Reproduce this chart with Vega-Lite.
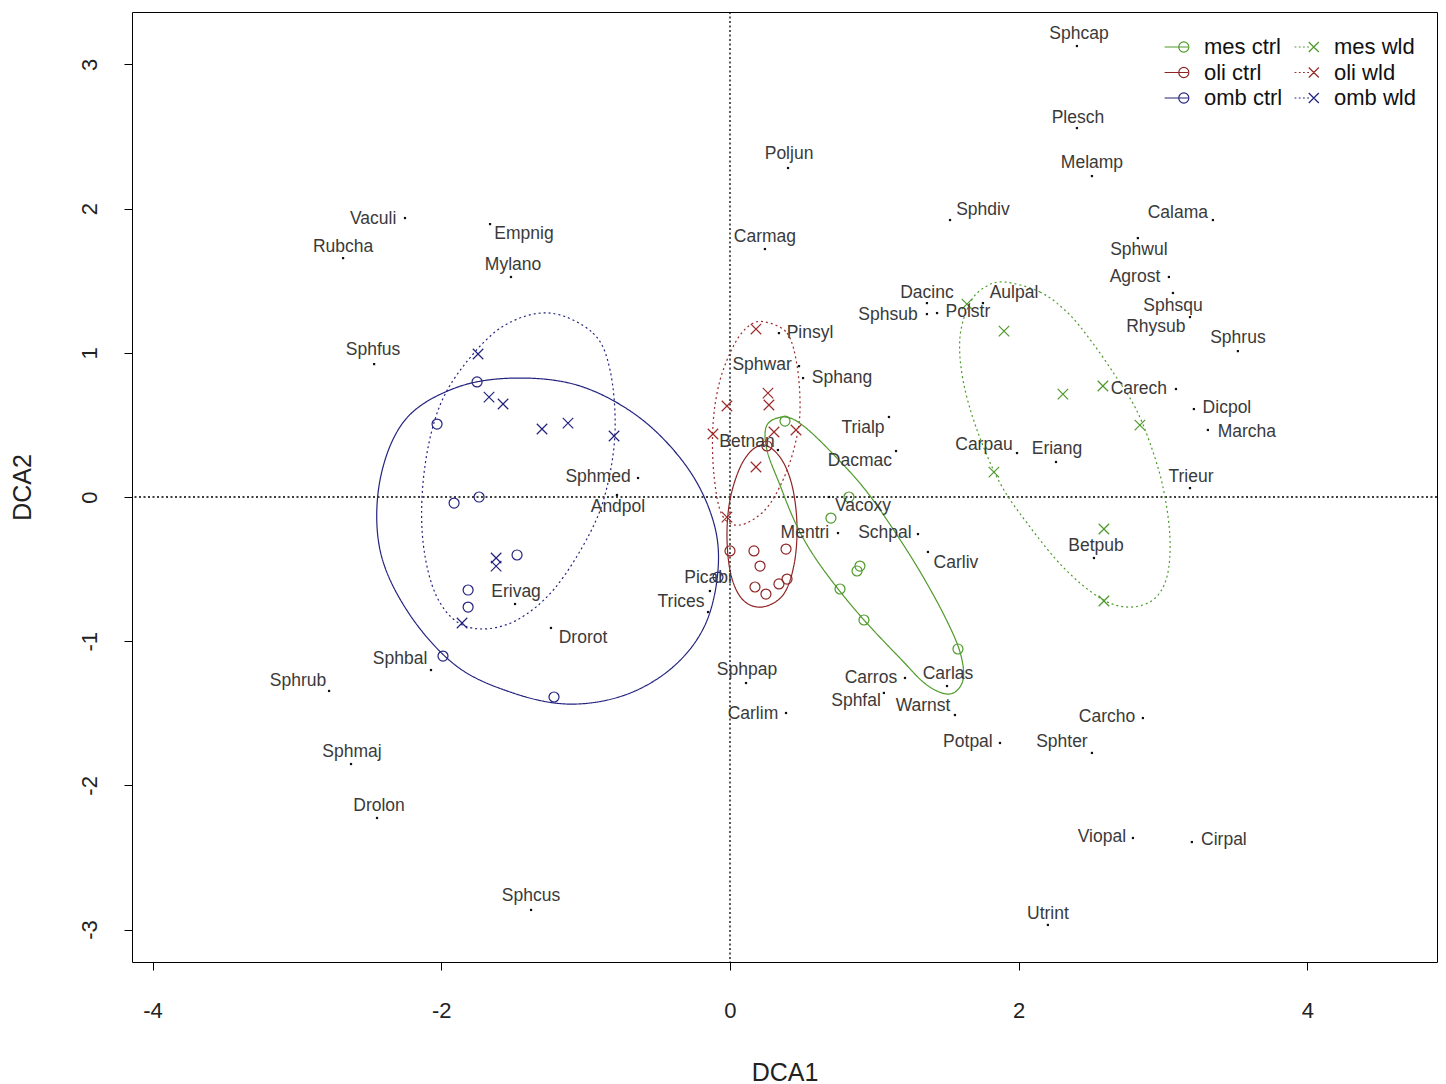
{
  "$schema": "https://vega.github.io/schema/vega-lite/v6.json",
  "width": 1305,
  "height": 950,
  "autosize": {"type": "none"},
  "padding": {"left": 132, "top": 12, "right": 9, "bottom": 122},
  "background": "white",
  "config": {
    "view": {"stroke": "#000", "strokeWidth": 1},
    "font": "Liberation Sans",
    "axis": {
      "domain": false, "grid": false, "tickSize": 8, "tickColor": "#000", "tickWidth": 1,
      "labelFont": "Liberation Sans", "labelFontSize": 22, "labelColor": "#222",
      "titleFont": "Liberation Sans", "titleFontSize": 25, "titleFontWeight": "normal", "titleColor": "#222"
    },
    "legend": {
      "symbolSize": 576, "symbolStrokeWidth": 1.2, "symbolOpacity": 1,
      "labelFont": "Liberation Sans", "labelFontSize": 22, "labelColor": "#111", "labelLimit": 0,
      "labelOffset": 12, "columnPadding": 9, "rowPadding": 1.5, "padding": 0
    }
  },
  "resolve": {"legend": {"color": "independent", "shape": "independent", "strokeDash": "independent"}},
  "datasets": {
    "groups": [
      {"grp": "mes ctrl"}, {"grp": "mes wld"}, {"grp": "oli ctrl"},
      {"grp": "oli wld"}, {"grp": "omb ctrl"}, {"grp": "omb wld"}
    ],
    "sites": [
      {"grp": "omb ctrl", "x": -1.752, "y": 0.798},
      {"grp": "omb ctrl", "x": -2.029, "y": 0.506},
      {"grp": "omb ctrl", "x": -1.911, "y": -0.042},
      {"grp": "omb ctrl", "x": -1.738, "y": 0.0},
      {"grp": "omb ctrl", "x": -1.475, "y": -0.402},
      {"grp": "omb ctrl", "x": -1.814, "y": -0.645},
      {"grp": "omb ctrl", "x": -1.814, "y": -0.763},
      {"grp": "omb ctrl", "x": -1.988, "y": -1.103},
      {"grp": "omb ctrl", "x": -1.219, "y": -1.387},
      {"grp": "omb ctrl", "x": -0.083, "y": -0.555},
      {"grp": "omb wld", "x": -1.745, "y": 0.992},
      {"grp": "omb wld", "x": -1.669, "y": 0.693},
      {"grp": "omb wld", "x": -1.572, "y": 0.645},
      {"grp": "omb wld", "x": -1.302, "y": 0.472},
      {"grp": "omb wld", "x": -1.122, "y": 0.513},
      {"grp": "omb wld", "x": -0.803, "y": 0.423},
      {"grp": "omb wld", "x": -1.62, "y": -0.423},
      {"grp": "omb wld", "x": -1.62, "y": -0.479},
      {"grp": "omb wld", "x": -1.856, "y": -0.874},
      {"grp": "oli ctrl", "x": 0.0, "y": -0.374},
      {"grp": "oli ctrl", "x": 0.166, "y": -0.374},
      {"grp": "oli ctrl", "x": 0.208, "y": -0.479},
      {"grp": "oli ctrl", "x": 0.388, "y": -0.361},
      {"grp": "oli ctrl", "x": 0.173, "y": -0.624},
      {"grp": "oli ctrl", "x": 0.249, "y": -0.673},
      {"grp": "oli ctrl", "x": 0.339, "y": -0.603},
      {"grp": "oli ctrl", "x": 0.395, "y": -0.569},
      {"grp": "oli ctrl", "x": 0.256, "y": 0.354},
      {"grp": "oli wld", "x": 0.18, "y": 1.165},
      {"grp": "oli wld", "x": -0.021, "y": 0.631},
      {"grp": "oli wld", "x": 0.263, "y": 0.721},
      {"grp": "oli wld", "x": 0.27, "y": 0.638},
      {"grp": "oli wld", "x": -0.118, "y": 0.437},
      {"grp": "oli wld", "x": 0.305, "y": 0.451},
      {"grp": "oli wld", "x": 0.457, "y": 0.465},
      {"grp": "oli wld", "x": 0.18, "y": 0.208},
      {"grp": "oli wld", "x": -0.021, "y": -0.139},
      {"grp": "mes ctrl", "x": 0.381, "y": 0.527},
      {"grp": "mes ctrl", "x": 0.824, "y": 0.0},
      {"grp": "mes ctrl", "x": 0.699, "y": -0.146},
      {"grp": "mes ctrl", "x": 0.9, "y": -0.479},
      {"grp": "mes ctrl", "x": 0.88, "y": -0.513},
      {"grp": "mes ctrl", "x": 0.762, "y": -0.638},
      {"grp": "mes ctrl", "x": 0.928, "y": -0.853},
      {"grp": "mes ctrl", "x": 1.579, "y": -1.054},
      {"grp": "mes wld", "x": 1.641, "y": 1.338},
      {"grp": "mes wld", "x": 1.898, "y": 1.151},
      {"grp": "mes wld", "x": 2.306, "y": 0.714},
      {"grp": "mes wld", "x": 2.583, "y": 0.77},
      {"grp": "mes wld", "x": 2.839, "y": 0.499},
      {"grp": "mes wld", "x": 1.828, "y": 0.173},
      {"grp": "mes wld", "x": 2.59, "y": -0.222},
      {"grp": "mes wld", "x": 2.59, "y": -0.721}
    ],
    "ellipses": [
      {"grp": "omb ctrl", "i": 1, "x": -1.489, "y": 0.825},
      {"grp": "omb ctrl", "i": 2, "x": -1.039, "y": 0.77},
      {"grp": "omb ctrl", "i": 3, "x": -0.623, "y": 0.548},
      {"grp": "omb ctrl", "i": 4, "x": -0.298, "y": 0.208},
      {"grp": "omb ctrl", "i": 5, "x": -0.118, "y": -0.16},
      {"grp": "omb ctrl", "i": 6, "x": -0.083, "y": -0.506},
      {"grp": "omb ctrl", "i": 7, "x": -0.173, "y": -0.888},
      {"grp": "omb ctrl", "i": 8, "x": -0.395, "y": -1.179},
      {"grp": "omb ctrl", "i": 9, "x": -0.727, "y": -1.373},
      {"grp": "omb ctrl", "i": 10, "x": -1.122, "y": -1.436},
      {"grp": "omb ctrl", "i": 11, "x": -1.524, "y": -1.352},
      {"grp": "omb ctrl", "i": 12, "x": -1.904, "y": -1.165},
      {"grp": "omb ctrl", "i": 13, "x": -2.23, "y": -0.798},
      {"grp": "omb ctrl", "i": 14, "x": -2.424, "y": -0.368},
      {"grp": "omb ctrl", "i": 15, "x": -2.424, "y": 0.118},
      {"grp": "omb ctrl", "i": 16, "x": -2.251, "y": 0.534},
      {"grp": "omb ctrl", "i": 17, "x": -1.904, "y": 0.756},
      {"grp": "omb wld", "i": 1, "x": -1.247, "y": 1.276},
      {"grp": "omb wld", "i": 2, "x": -0.949, "y": 1.137},
      {"grp": "omb wld", "i": 3, "x": -0.831, "y": 0.881},
      {"grp": "omb wld", "i": 4, "x": -0.796, "y": 0.465},
      {"grp": "omb wld", "i": 5, "x": -0.852, "y": 0.069},
      {"grp": "omb wld", "i": 6, "x": -0.97, "y": -0.25},
      {"grp": "omb wld", "i": 7, "x": -1.212, "y": -0.631},
      {"grp": "omb wld", "i": 8, "x": -1.475, "y": -0.853},
      {"grp": "omb wld", "i": 9, "x": -1.731, "y": -0.915},
      {"grp": "omb wld", "i": 10, "x": -1.925, "y": -0.839},
      {"grp": "omb wld", "i": 11, "x": -2.064, "y": -0.61},
      {"grp": "omb wld", "i": 12, "x": -2.133, "y": -0.229},
      {"grp": "omb wld", "i": 13, "x": -2.112, "y": 0.222},
      {"grp": "omb wld", "i": 14, "x": -2.008, "y": 0.638},
      {"grp": "omb wld", "i": 15, "x": -1.814, "y": 0.95},
      {"grp": "omb wld", "i": 16, "x": -1.558, "y": 1.193},
      {"grp": "oli ctrl", "i": 1, "x": 0.222, "y": 0.361},
      {"grp": "oli ctrl", "i": 2, "x": 0.346, "y": 0.277},
      {"grp": "oli ctrl", "i": 3, "x": 0.429, "y": 0.083},
      {"grp": "oli ctrl", "i": 4, "x": 0.464, "y": -0.194},
      {"grp": "oli ctrl", "i": 5, "x": 0.443, "y": -0.472},
      {"grp": "oli ctrl", "i": 6, "x": 0.367, "y": -0.68},
      {"grp": "oli ctrl", "i": 7, "x": 0.222, "y": -0.763},
      {"grp": "oli ctrl", "i": 8, "x": 0.09, "y": -0.714},
      {"grp": "oli ctrl", "i": 9, "x": 0.007, "y": -0.541},
      {"grp": "oli ctrl", "i": 10, "x": -0.021, "y": -0.264},
      {"grp": "oli ctrl", "i": 11, "x": 0.007, "y": 0.014},
      {"grp": "oli ctrl", "i": 12, "x": 0.097, "y": 0.257},
      {"grp": "oli wld", "i": 1, "x": 0.242, "y": 1.214},
      {"grp": "oli wld", "i": 2, "x": 0.395, "y": 1.137},
      {"grp": "oli wld", "i": 3, "x": 0.464, "y": 0.915},
      {"grp": "oli wld", "i": 4, "x": 0.485, "y": 0.603},
      {"grp": "oli wld", "i": 5, "x": 0.45, "y": 0.361},
      {"grp": "oli wld", "i": 6, "x": 0.367, "y": 0.118},
      {"grp": "oli wld", "i": 7, "x": 0.242, "y": -0.09},
      {"grp": "oli wld", "i": 8, "x": 0.069, "y": -0.194},
      {"grp": "oli wld", "i": 9, "x": -0.055, "y": -0.125},
      {"grp": "oli wld", "i": 10, "x": -0.111, "y": 0.153},
      {"grp": "oli wld", "i": 11, "x": -0.118, "y": 0.499},
      {"grp": "oli wld", "i": 12, "x": -0.069, "y": 0.811},
      {"grp": "oli wld", "i": 13, "x": 0.035, "y": 1.068},
      {"grp": "oli wld", "i": 14, "x": 0.139, "y": 1.193},
      {"grp": "mes ctrl", "i": 1, "x": 0.381, "y": 0.555},
      {"grp": "mes ctrl", "i": 2, "x": 0.519, "y": 0.485},
      {"grp": "mes ctrl", "i": 3, "x": 0.741, "y": 0.27},
      {"grp": "mes ctrl", "i": 4, "x": 0.949, "y": 0.035},
      {"grp": "mes ctrl", "i": 5, "x": 1.157, "y": -0.264},
      {"grp": "mes ctrl", "i": 6, "x": 1.33, "y": -0.541},
      {"grp": "mes ctrl", "i": 7, "x": 1.489, "y": -0.832},
      {"grp": "mes ctrl", "i": 8, "x": 1.593, "y": -1.075},
      {"grp": "mes ctrl", "i": 9, "x": 1.614, "y": -1.269},
      {"grp": "mes ctrl", "i": 10, "x": 1.524, "y": -1.366},
      {"grp": "mes ctrl", "i": 11, "x": 1.364, "y": -1.304},
      {"grp": "mes ctrl", "i": 12, "x": 1.177, "y": -1.117},
      {"grp": "mes ctrl", "i": 13, "x": 0.928, "y": -0.853},
      {"grp": "mes ctrl", "i": 14, "x": 0.727, "y": -0.61},
      {"grp": "mes ctrl", "i": 15, "x": 0.568, "y": -0.388},
      {"grp": "mes ctrl", "i": 16, "x": 0.45, "y": -0.173},
      {"grp": "mes ctrl", "i": 17, "x": 0.346, "y": 0.083},
      {"grp": "mes ctrl", "i": 18, "x": 0.256, "y": 0.326},
      {"grp": "mes ctrl", "i": 19, "x": 0.256, "y": 0.499},
      {"grp": "mes wld", "i": 1, "x": 1.904, "y": 1.491},
      {"grp": "mes wld", "i": 2, "x": 2.147, "y": 1.422},
      {"grp": "mes wld", "i": 3, "x": 2.341, "y": 1.276},
      {"grp": "mes wld", "i": 4, "x": 2.507, "y": 1.075},
      {"grp": "mes wld", "i": 5, "x": 2.666, "y": 0.846},
      {"grp": "mes wld", "i": 6, "x": 2.805, "y": 0.624},
      {"grp": "mes wld", "i": 7, "x": 2.909, "y": 0.374},
      {"grp": "mes wld", "i": 8, "x": 2.999, "y": 0.069},
      {"grp": "mes wld", "i": 9, "x": 3.047, "y": -0.277},
      {"grp": "mes wld", "i": 10, "x": 3.026, "y": -0.555},
      {"grp": "mes wld", "i": 11, "x": 2.929, "y": -0.714},
      {"grp": "mes wld", "i": 12, "x": 2.756, "y": -0.763},
      {"grp": "mes wld", "i": 13, "x": 2.562, "y": -0.7},
      {"grp": "mes wld", "i": 14, "x": 2.306, "y": -0.485},
      {"grp": "mes wld", "i": 15, "x": 2.057, "y": -0.18},
      {"grp": "mes wld", "i": 16, "x": 1.87, "y": 0.097},
      {"grp": "mes wld", "i": 17, "x": 1.711, "y": 0.465},
      {"grp": "mes wld", "i": 18, "x": 1.614, "y": 0.811},
      {"grp": "mes wld", "i": 19, "x": 1.593, "y": 1.11},
      {"grp": "mes wld", "i": 20, "x": 1.662, "y": 1.345},
      {"grp": "mes wld", "i": 21, "x": 1.766, "y": 1.456}
    ],
    "species": [
      {"name": "Sphcap", "x": 2.403, "y": 3.128, "lx": 2.417, "ly": 3.211},
      {"name": "Plesch", "x": 2.403, "y": 2.559, "lx": 2.41, "ly": 2.628},
      {"name": "Melamp", "x": 2.507, "y": 2.226, "lx": 2.507, "ly": 2.316},
      {"name": "Poljun", "x": 0.402, "y": 2.282, "lx": 0.409, "ly": 2.379},
      {"name": "Sphdiv", "x": 1.524, "y": 1.921, "lx": 1.752, "ly": 1.99},
      {"name": "Calama", "x": 3.345, "y": 1.921, "lx": 3.102, "ly": 1.97},
      {"name": "Vaculi", "x": -2.251, "y": 1.935, "lx": -2.472, "ly": 1.928},
      {"name": "Empnig", "x": -1.662, "y": 1.893, "lx": -1.427, "ly": 1.824},
      {"name": "Rubcha", "x": -2.68, "y": 1.657, "lx": -2.68, "ly": 1.734},
      {"name": "Mylano", "x": -1.517, "y": 1.526, "lx": -1.503, "ly": 1.609},
      {"name": "Carmag", "x": 0.242, "y": 1.72, "lx": 0.242, "ly": 1.803},
      {"name": "Sphwul", "x": 2.825, "y": 1.796, "lx": 2.832, "ly": 1.713},
      {"name": "Agrost", "x": 3.04, "y": 1.526, "lx": 2.805, "ly": 1.526},
      {"name": "Sphsqu", "x": 3.068, "y": 1.415, "lx": 3.068, "ly": 1.325},
      {"name": "Rhysub", "x": 3.186, "y": 1.248, "lx": 2.95, "ly": 1.179},
      {"name": "Dacinc", "x": 1.364, "y": 1.345, "lx": 1.364, "ly": 1.415},
      {"name": "Aulpal", "x": 1.752, "y": 1.345, "lx": 1.967, "ly": 1.415},
      {"name": "Sphsub", "x": 1.364, "y": 1.269, "lx": 1.094, "ly": 1.262},
      {"name": "Polstr", "x": 1.434, "y": 1.276, "lx": 1.648, "ly": 1.283},
      {"name": "Sphrus", "x": 3.518, "y": 1.012, "lx": 3.518, "ly": 1.103},
      {"name": "Sphfus", "x": -2.465, "y": 0.922, "lx": -2.472, "ly": 1.019},
      {"name": "Pinsyl", "x": 0.339, "y": 1.137, "lx": 0.554, "ly": 1.137},
      {"name": "Sphwar", "x": 0.478, "y": 0.908, "lx": 0.222, "ly": 0.915},
      {"name": "Sphang", "x": 0.506, "y": 0.825, "lx": 0.776, "ly": 0.825},
      {"name": "Carech", "x": 3.089, "y": 0.749, "lx": 2.832, "ly": 0.749},
      {"name": "Dicpol", "x": 3.213, "y": 0.61, "lx": 3.442, "ly": 0.617},
      {"name": "Marcha", "x": 3.31, "y": 0.465, "lx": 3.58, "ly": 0.451},
      {"name": "Trialp", "x": 1.101, "y": 0.555, "lx": 0.921, "ly": 0.479},
      {"name": "Betnan", "x": 0.332, "y": 0.326, "lx": 0.118, "ly": 0.381},
      {"name": "Carpau", "x": 1.988, "y": 0.305, "lx": 1.759, "ly": 0.361},
      {"name": "Eriang", "x": 2.258, "y": 0.243, "lx": 2.265, "ly": 0.333},
      {"name": "Dacmac", "x": 1.15, "y": 0.319, "lx": 0.9, "ly": 0.25},
      {"name": "Sphmed", "x": -0.637, "y": 0.132, "lx": -0.914, "ly": 0.139},
      {"name": "Trieur", "x": 3.186, "y": 0.062, "lx": 3.193, "ly": 0.139},
      {"name": "Andpol", "x": -0.783, "y": 0.014, "lx": -0.776, "ly": -0.069},
      {"name": "Vacoxy", "x": 0.686, "y": 0.0, "lx": 0.921, "ly": -0.062},
      {"name": "Mentri", "x": 0.748, "y": -0.25, "lx": 0.519, "ly": -0.25},
      {"name": "Schpal", "x": 1.302, "y": -0.257, "lx": 1.073, "ly": -0.25},
      {"name": "Carliv", "x": 1.371, "y": -0.381, "lx": 1.565, "ly": -0.458},
      {"name": "Betpub", "x": 2.521, "y": -0.423, "lx": 2.535, "ly": -0.34},
      {"name": "Picabi", "x": -0.139, "y": -0.652, "lx": -0.152, "ly": -0.562},
      {"name": "Trices", "x": -0.152, "y": -0.798, "lx": -0.339, "ly": -0.728},
      {"name": "Erivag", "x": -1.489, "y": -0.742, "lx": -1.482, "ly": -0.659},
      {"name": "Drorot", "x": -1.24, "y": -0.908, "lx": -1.018, "ly": -0.978},
      {"name": "Sphbal", "x": -2.071, "y": -1.2, "lx": -2.285, "ly": -1.123},
      {"name": "Sphrub", "x": -2.777, "y": -1.345, "lx": -2.992, "ly": -1.276},
      {"name": "Sphpap", "x": 0.111, "y": -1.29, "lx": 0.118, "ly": -1.2},
      {"name": "Carros", "x": 1.212, "y": -1.255, "lx": 0.976, "ly": -1.255},
      {"name": "Carlas", "x": 1.503, "y": -1.311, "lx": 1.51, "ly": -1.227},
      {"name": "Sphfal", "x": 1.066, "y": -1.359, "lx": 0.873, "ly": -1.415},
      {"name": "Warnst", "x": 1.558, "y": -1.512, "lx": 1.337, "ly": -1.449},
      {"name": "Carlim", "x": 0.388, "y": -1.498, "lx": 0.159, "ly": -1.505},
      {"name": "Carcho", "x": 2.86, "y": -1.533, "lx": 2.611, "ly": -1.526},
      {"name": "Potpal", "x": 1.87, "y": -1.706, "lx": 1.648, "ly": -1.699},
      {"name": "Sphter", "x": 2.507, "y": -1.775, "lx": 2.299, "ly": -1.699},
      {"name": "Sphmaj", "x": -2.625, "y": -1.852, "lx": -2.618, "ly": -1.768},
      {"name": "Drolon", "x": -2.445, "y": -2.226, "lx": -2.431, "ly": -2.143},
      {"name": "Viopal", "x": 2.791, "y": -2.365, "lx": 2.576, "ly": -2.358},
      {"name": "Cirpal", "x": 3.199, "y": -2.393, "lx": 3.421, "ly": -2.379},
      {"name": "Sphcus", "x": -1.378, "y": -2.864, "lx": -1.378, "ly": -2.767},
      {"name": "Utrint", "x": 2.202, "y": -2.968, "lx": 2.202, "ly": -2.892}
    ]
  },
  "layer": [
    {
      "data": {"values": [{}]},
      "mark": {"type": "rule", "color": "#000", "strokeWidth": 1.3, "strokeDash": [2, 2.5]},
      "encoding": {
        "x": {
          "datum": 0, "type": "quantitative",
          "scale": {"domain": [-4.142, 4.897], "zero": false, "nice": false},
          "axis": {
            "values": [-4, -2, 0, 2, 4], "title": "DCA1", "labelExpr": "'' + datum.value",
            "labelPadding": 30, "titleY": 118, "titleBaseline": "alphabetic"
          }
        }
      }
    },
    {
      "data": {"values": [{}]},
      "mark": {"type": "rule", "color": "#000", "strokeWidth": 1.3, "strokeDash": [2, 2.5]},
      "encoding": {
        "y": {
          "datum": 0, "type": "quantitative",
          "scale": {"domain": [-3.225, 3.364], "zero": false, "nice": false},
          "axis": {
            "values": [-3, -2, -1, 0, 1, 2, 3], "title": "DCA2", "labelExpr": "'' + datum.value",
            "labelAngle": -90, "labelAlign": "center", "labelBaseline": "bottom", "labelPadding": 23,
            "titleAngle": 270, "titleX": -102, "titleBaseline": "alphabetic"
          }
        }
      }
    },
    {
      "data": {"name": "ellipses"},
      "mark": {"type": "line", "interpolate": "cardinal-closed", "strokeWidth": 1.2},
      "encoding": {
        "x": {"field": "x", "type": "quantitative"},
        "y": {"field": "y", "type": "quantitative"},
        "order": {"field": "i", "type": "quantitative"},
        "detail": {"field": "grp"},
        "color": {
          "field": "grp", "type": "nominal", "legend": null,
          "scale": {
            "domain": ["mes ctrl", "mes wld", "oli ctrl", "oli wld", "omb ctrl", "omb wld"],
            "range": ["#4e9a2a", "#4e9a2a", "#8e2424", "#9c2b2b", "#23237f", "#23237f"]
          }
        },
        "strokeDash": {
          "field": "grp", "type": "nominal", "legend": null,
          "scale": {
            "domain": ["mes ctrl", "mes wld", "oli ctrl", "oli wld", "omb ctrl", "omb wld"],
            "range": [[1, 0], [2, 3], [1, 0], [2, 3], [1, 0], [2, 3]]
          }
        }
      }
    },
    {
      "data": {"name": "sites"},
      "transform": [{"filter": "indexof(datum.grp, 'ctrl') >= 0"}],
      "mark": {"type": "point", "shape": "circle", "filled": false, "size": 100, "strokeWidth": 1.2, "opacity": 1},
      "encoding": {
        "x": {"field": "x", "type": "quantitative"},
        "y": {"field": "y", "type": "quantitative"},
        "color": {"field": "grp", "type": "nominal", "legend": null}
      }
    },
    {
      "data": {"name": "sites"},
      "transform": [{"filter": "indexof(datum.grp, 'wld') >= 0"}],
      "mark": {"type": "point", "shape": "M-1,-1L1,1M-1,1L1,-1", "filled": false, "size": 110, "strokeWidth": 1.2, "opacity": 1},
      "encoding": {
        "x": {"field": "x", "type": "quantitative"},
        "y": {"field": "y", "type": "quantitative"},
        "color": {"field": "grp", "type": "nominal", "legend": null}
      }
    },
    {
      "data": {"name": "species"},
      "mark": {"type": "point", "shape": "square", "filled": true, "size": 5, "color": "#111", "opacity": 1},
      "encoding": {
        "x": {"field": "x", "type": "quantitative"},
        "y": {"field": "y", "type": "quantitative"}
      }
    },
    {
      "data": {"name": "species"},
      "mark": {"type": "text", "font": "Liberation Sans", "fontSize": 17.5, "color": "#3a3a3a", "align": "center", "baseline": "middle"},
      "encoding": {
        "x": {"field": "lx", "type": "quantitative"},
        "y": {"field": "ly", "type": "quantitative"},
        "text": {"field": "name"}
      }
    },
    {
      "data": {"name": "groups"},
      "mark": {"type": "point", "filled": false, "size": 576, "strokeWidth": 1.2, "opacity": 0},
      "encoding": {
        "color": {
          "field": "grp", "type": "nominal",
          "legend": {"orient": "none", "legendX": 1034, "legendY": 22, "columns": 2, "direction": "horizontal", "title": null, "symbolOpacity": 1}
        },
        "shape": {
          "field": "grp", "type": "nominal",
          "scale": {
            "domain": ["mes ctrl", "mes wld", "oli ctrl", "oli wld", "omb ctrl", "omb wld"],
            "range": [
              "M-1.2,0L0.75,0M0.82,0A0.42,0.42,0,1,1,-0.02,0A0.42,0.42,0,1,1,0.82,0",
              "M-1.2,0L-1.05,0M-0.85,0L-0.7,0M-0.5,0L-0.35,0M-0.15,0L0,0M-0.02,-0.42L0.82,0.42M-0.02,0.42L0.82,-0.42",
              "M-1.2,0L0.75,0M0.82,0A0.42,0.42,0,1,1,-0.02,0A0.42,0.42,0,1,1,0.82,0",
              "M-1.2,0L-1.05,0M-0.85,0L-0.7,0M-0.5,0L-0.35,0M-0.15,0L0,0M-0.02,-0.42L0.82,0.42M-0.02,0.42L0.82,-0.42",
              "M-1.2,0L0.75,0M0.82,0A0.42,0.42,0,1,1,-0.02,0A0.42,0.42,0,1,1,0.82,0",
              "M-1.2,0L-1.05,0M-0.85,0L-0.7,0M-0.5,0L-0.35,0M-0.15,0L0,0M-0.02,-0.42L0.82,0.42M-0.02,0.42L0.82,-0.42"
            ]
          },
          "legend": {"orient": "none", "legendX": 1034, "legendY": 22, "columns": 2, "direction": "horizontal", "title": null, "symbolOpacity": 1}
        }
      }
    }
  ]
}
